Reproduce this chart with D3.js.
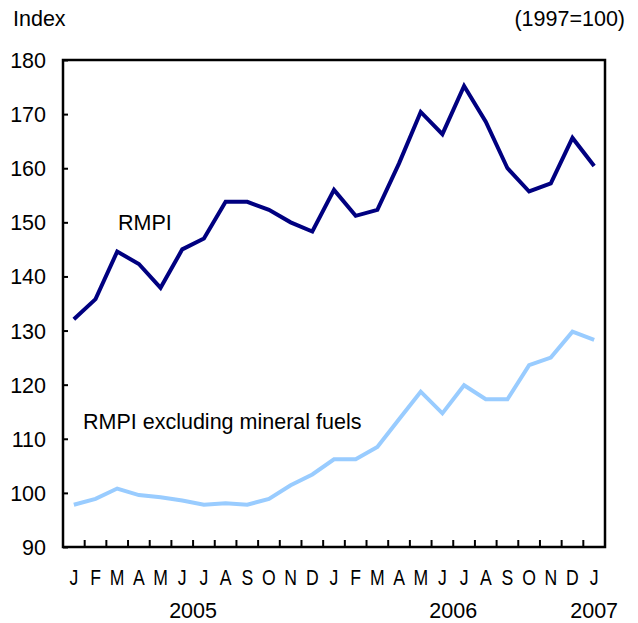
<!DOCTYPE html>
<html>
<head>
<meta charset="utf-8">
<script src="https://cdn.jsdelivr.net/npm/d3@7"></script>
<style>
  body { margin: 0; background: #fff; }
  text { font-family: "Liberation Sans", Arial, sans-serif; fill: #000; font-size: 21.5px; }
</style>
</head>
<body>
<div id="chart"></div>
<script>
const months = ['J', 'F', 'M', 'A', 'M', 'J', 'J', 'A', 'S', 'O', 'N', 'D',
                'J', 'F', 'M', 'A', 'M', 'J', 'J', 'A', 'S', 'O', 'N', 'D', 'J'];
const years = [
    { label: '2005', at: 6 },
    { label: '2006', at: 18 },
    { label: '2007', at: 24.5 }
];
const rmpi = [132.1, 135.8, 144.6, 142.3, 137.9, 145.0, 147.0, 153.8, 153.8, 152.3, 150.0, 148.3,
              156.0, 151.2, 152.3, 160.9, 170.4, 166.3, 175.2, 168.6, 160.0, 155.7, 157.2, 165.6, 160.4];
const rmpiExFuels = [97.8, 98.9, 100.8, 99.6, 99.2, 98.6, 97.8, 98.1, 97.8, 98.9, 101.4, 103.4,
                     106.2, 106.2, 108.5, 113.6, 118.7, 114.7, 119.9, 117.3, 117.3, 123.6, 125.0, 129.8, 128.3];
const yTicks = [90, 100, 110, 120, 130, 140, 150, 160, 170, 180];

const width = 638;
const height = 623;
const plot = { left: 63, right: 605, top: 60, bottom: 547 };

const svg = d3.select('#chart')
    .append('svg')
    .attr('width', width)
    .attr('height', height);

const x = d3.scaleLinear()
    .domain([0, months.length])
    .range([plot.left, plot.right]);

const y = d3.scaleLinear()
    .domain([90, 180])
    .range([plot.bottom, plot.top]);

// y axis, ticks pointing into the plot
const yAxis = svg.append('g')
    .attr('transform', `translate(${plot.left}, 0)`)
    .call(d3.axisLeft(y).tickValues(yTicks).tickSize(-5).tickPadding(17).tickFormat(d3.format('d')));
yAxis.select('.domain').remove();
yAxis.selectAll('line').attr('stroke', '#000').attr('stroke-width', 2);
yAxis.selectAll('text')
    .attr('dy', '0.35em');
yAxis.attr('font-size', null).attr('font-family', null);

// month ticks at the boundaries between months
const boundaries = d3.range(1, months.length);
svg.append('g')
    .selectAll('line')
    .data(boundaries)
    .enter()
    .append('line')
    .attr('x1', d => x(d))
    .attr('x2', d => x(d))
    .attr('y1', plot.bottom)
    .attr('y2', plot.bottom - 7)
    .attr('stroke', '#000')
    .attr('stroke-width', 2);

// condensed month letters
svg.append('g')
    .selectAll('text')
    .data(months)
    .enter()
    .append('text')
    .attr('transform', (d, i) => `translate(${x(i + 0.5)}, 585) scale(0.82, 1)`)
    .attr('text-anchor', 'middle')
    .text(d => d);

svg.append('g')
    .selectAll('text')
    .data(years)
    .enter()
    .append('text')
    .attr('x', d => x(d.at))
    .attr('y', 618)
    .attr('text-anchor', 'middle')
    .text(d => d.label);

// frame
svg.append('rect')
    .attr('x', plot.left)
    .attr('y', plot.top)
    .attr('width', plot.right - plot.left)
    .attr('height', plot.bottom - plot.top)
    .attr('fill', 'none')
    .attr('stroke', '#000')
    .attr('stroke-width', 2.5);

const line = d3.line()
    .x((d, i) => x(i + 0.5))
    .y(d => y(d));

svg.append('path')
    .datum(rmpiExFuels)
    .attr('d', line)
    .attr('fill', 'none')
    .attr('stroke', '#99ccff')
    .attr('stroke-width', 4)
    .attr('stroke-linejoin', 'miter');

svg.append('path')
    .datum(rmpi)
    .attr('d', line)
    .attr('fill', 'none')
    .attr('stroke', '#000080')
    .attr('stroke-width', 4)
    .attr('stroke-linejoin', 'miter');

svg.append('text')
    .attr('x', 118)
    .attr('y', 230)
    .text('RMPI');

svg.append('text')
    .attr('x', 83)
    .attr('y', 429)
    .text('RMPI excluding mineral fuels');

svg.append('text')
    .attr('x', 13)
    .attr('y', 26)
    .text('Index');

svg.append('text')
    .attr('x', 625)
    .attr('y', 26)
    .attr('text-anchor', 'end')
    .text('(1997=100)');
</script>
</body>
</html>
